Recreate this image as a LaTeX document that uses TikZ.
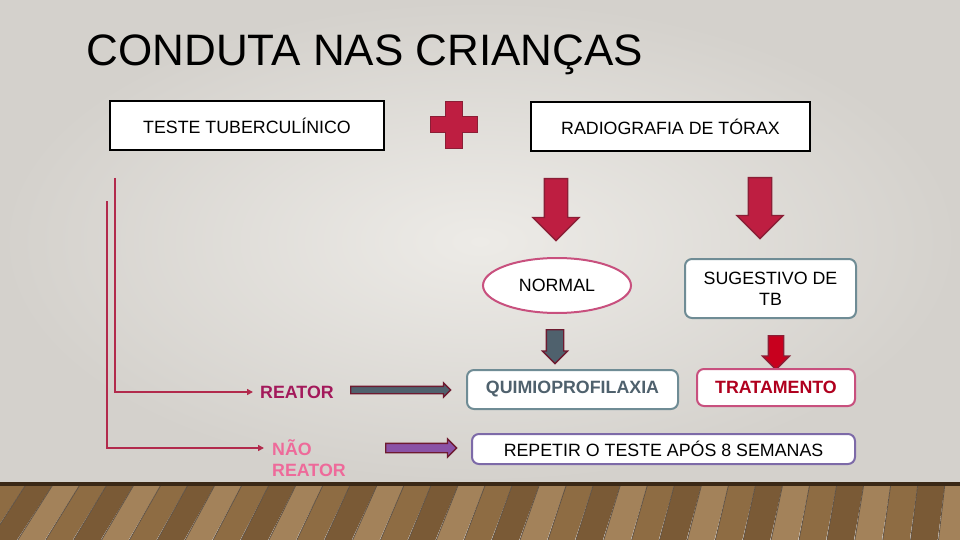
\documentclass[tikz,border=0pt]{standalone}
\usepackage{fontspec}
\setmainfont{Liberation Sans}
\usepackage{tikz}
\usetikzlibrary{positioning, arrows.meta, shapes.geometric, shapes.arrows, calc}
\definecolor{wallin}{HTML}{EDEBE7}
\definecolor{wallout}{HTML}{D4D1CC}
\definecolor{crimson}{HTML}{BE1E41}
\definecolor{crimsondk}{HTML}{8B1E36}
\definecolor{maroonc}{HTML}{6E1A30}
\definecolor{slatec}{HTML}{4F616D}
\definecolor{tealgray}{HTML}{6F8C95}
\definecolor{rosac}{HTML}{C8507E}
\definecolor{lilac}{HTML}{7D6AA8}
\definecolor{purpc}{HTML}{8A52A6}
\definecolor{rubro}{HTML}{B0001E}
\definecolor{vivo}{HTML}{C8001E}
\definecolor{reatorc}{HTML}{A3195B}
\definecolor{naoc}{HTML}{EE6A9A}
\definecolor{linhac}{HTML}{B22A4C}
\definecolor{wood0}{HTML}{8E6C43}
\definecolor{wood1}{HTML}{7A5A36}
\definecolor{wood2}{HTML}{A3825A}
\definecolor{wooddk}{HTML}{3A2816}
\tikzset{
    cdtext/.style={font=\fontsize{17.8}{21}\selectfont},
    cdbold/.style={font=\bfseries\fontsize{17.8}{21}\selectfont},
    cdbox/.style={cdtext, draw=black, line width=1.5pt, fill=white, align=center, inner sep=0pt},
    cdround/.style={cdtext, draw, line width=2pt, rounded corners=7pt, fill=white, align=center, inner sep=0pt},
    cdoval/.style={cdtext, draw=rosac, line width=2pt, ellipse, fill=white, inner sep=0pt},
    cddown/.style={single arrow, shape border rotate=270, single arrow tip angle=90, line width=1.3pt, anchor=tail},
    cdright/.style={single arrow, single arrow tip angle=90, fill=#1, draw=maroonc, line width=1.3pt, anchor=tail},
    cdline/.style={draw=linhac, line width=1.6pt, -{Triangle[length=6pt, width=6pt]}},
    cdlbl/.style={cdbold, inner sep=2pt},
}

\begin{document}
\begin{tikzpicture}[x=1pt, y=-1pt]
        \useasboundingbox (0,0) rectangle (960,540);
        \shade[inner color=wallin, outer color=wallout] (0,0) rectangle (960,483);
        \foreach \i [evaluate=\i as \k using {int(mod(\i+33,3))}] in {-2,...,38}
            \fill[wood\k] (\i*27,483) -- (\i*27+27,483) -- (\i*27.9-11,540) -- (\i*27.9-38,540) -- cycle;
        \foreach \i in {-2,...,38}
            \draw[wooddk!80, line width=0.8pt] (\i*27,483) -- (\i*27.9-38,540);
        \fill[wooddk] (0,482) rectangle (960,486);

        \node[anchor=base west, font=\fontsize{44}{50}\selectfont] (titulo) at (83,66) {CONDUTA NAS CRIANÇAS};

        \node[cdbox, minimum width=274pt, minimum height=49pt] (teste) at (247,125.5) {TESTE TUBERCULÍNICO};
        \fill[crimson, draw=crimsondk, line width=1pt] (445,102) -- (462,102) -- (462,117) -- (477,117) -- (477,133) -- (462,133) -- (462,149) -- (445,149) -- (445,133) -- (430,133) -- (430,117) -- (445,117) -- cycle;
        \node[cdbox, minimum width=279pt, minimum height=49pt] (raio) at (670.5,126.5) {RADIOGRAFIA DE TÓRAX};

        \node[cddown, fill=crimson, draw=crimsondk, minimum height=62pt, inner sep=11pt, single arrow head extend=11.5pt] (setaA) at (556,178) {};
        \node[cddown, fill=crimson, draw=crimsondk, minimum height=61pt, inner sep=11pt, single arrow head extend=11.5pt] (setaB) at (760,177) {};

        \node[cdoval, minimum width=148pt, minimum height=55pt] (normal) at (557,285.5) {NORMAL};
        \node[cdround, draw=tealgray, minimum width=171pt, minimum height=59pt] (sugest) at (770.5,288.5) {SUGESTIVO DE\\TB};

        \node[cddown, fill=slatec, draw=maroonc, minimum height=34pt, inner sep=8pt, single arrow head extend=4pt] (setaC) at (555,329) {};
        \node[cddown, fill=vivo, draw=crimsondk, minimum height=34pt, inner sep=7pt, single arrow head extend=6pt] (setaD) at (776,335) {};

        \node[cdround, cdbold, draw=tealgray, text=slatec, minimum width=211pt, minimum height=39pt] (quimio) at (572.5,389.5) {QUIMIOPROFILAXIA};
        \node[cdround, cdbold, draw=rosac, text=rubro, minimum width=158pt, minimum height=37pt] (trata) at (776,387.5) {TRATAMENTO};
        \node[cdround, draw=lilac, minimum width=383pt, minimum height=30pt] (repetir) at (663.5,449) {REPETIR O TESTE APÓS 8 SEMANAS};

        \node[cdlbl, anchor=west, text=reatorc] (reator) at (258,392) {REATOR};
        \node[cdlbl, anchor=north west, align=left, text=naoc] (nao) at (270,437) {NÃO\\REATOR};

        \coordinate (ini1) at (115,178);
        \coordinate (ini2) at (107,201);
        \draw[cdline, shorten >=5pt] (ini1) |- (reator.west);
        \draw[cdline, shorten >=6pt] (ini2) |- ($(nao.north west)+(0,11)$);

        \node[cdright=slatec, minimum height=100pt, inner sep=3pt, single arrow head extend=3.5pt] (setaE) at (350,390) {};
        \node[cdright=purpc, minimum height=71pt, inner sep=4pt, single arrow head extend=4.5pt] (setaF) at (385,448) {};
    \end{tikzpicture}
\end{document}
